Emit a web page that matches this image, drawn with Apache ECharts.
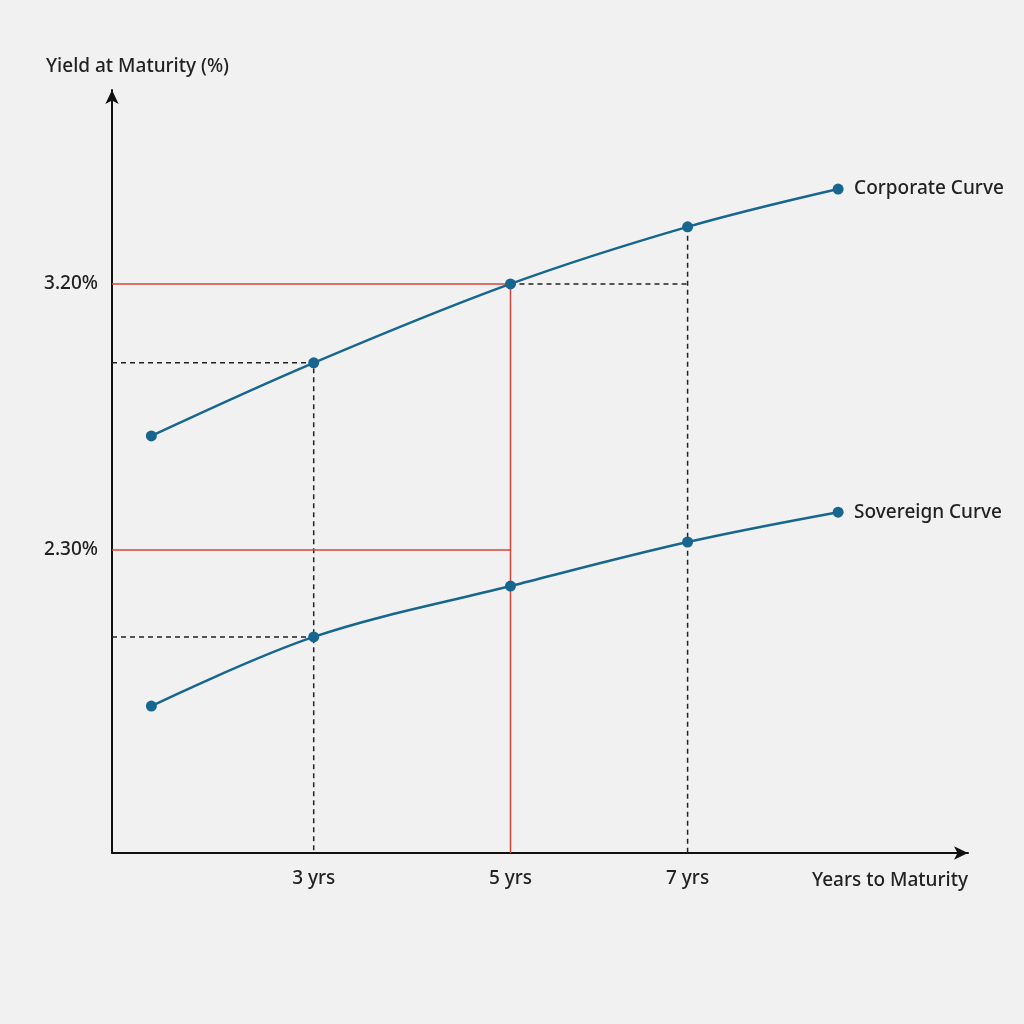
<!DOCTYPE html>
<html>
<head>
<meta charset="utf-8">
<script src="https://cdn.jsdelivr.net/npm/echarts@6/dist/echarts.min.js"></script>
<style>html,body{margin:0;background:#f1f1f1}#c{width:1024px;height:1024px}</style>
</head>
<body>
<div id="c"></div>
<script>
// the source picture spaces the x ticks unevenly, so 7 yrs is drawn at ~6.8
const years = [1.35, 3, 5, 6.8, 8.33];
const corporate = [2.686, 2.933, 3.2, 3.393, 3.521];
const sovereign = [1.772, 2.006, 2.178, 2.327, 2.428];
const xTicks = [3, 5, 6.8];
const yTicks = [2.3, 3.2];

const X0 = 0.95, Y0 = 1.275;
const blue = '#17668f';
const red = '#d6453d';
const font = { color: '#222', fontSize: 19, fontFamily: 'Noto Sans', fontWeight: 500 };

const curve = (name, vals) => ({
  type: 'line', name, smooth: 0.35, symbol: 'circle', symbolSize: 11,
  data: years.map((x, i) => [x, vals[i]]),
  lineStyle: { color: blue, width: 2.5 }, itemStyle: { color: blue },
  endLabel: { show: true, formatter: name, ...font, offset: [8, 0] },
  z: 5
});
const guide = (pts, color, dashed) => ({
  type: 'line', data: pts, symbol: 'none', silent: true,
  lineStyle: { color, width: 1.5, type: dashed ? [5, 4] : 'solid' }, z: 2
});

const option = {
  backgroundColor: '#f1f1f1',
  animation: false,
  grid: { left: 112, right: 56, top: 90, bottom: 171 },
  xAxis: {
    type: 'value', min: X0, max: 9.65,
    name: 'Years to Maturity', nameLocation: 'end', nameGap: 0,
    nameTextStyle: { ...font, align: 'right', verticalAlign: 'top', padding: [18, 0, 0, 0] },
    axisLine: { lineStyle: { color: '#111', width: 2 }, symbol: ['none', 'arrow'], symbolSize: [10, 14] },
    axisTick: { show: false }, splitLine: { show: false },
    axisLabel: { customValues: xTicks, formatter: v => Math.round(v) + ' yrs', ...font, margin: 16 }
  },
  yAxis: {
    type: 'value', min: Y0, max: 3.856,
    name: 'Yield at Maturity (%)', nameLocation: 'end', nameGap: 14,
    nameTextStyle: { ...font, align: 'left', padding: [0, 0, 0, -66] },
    axisLine: { show: true, lineStyle: { color: '#111', width: 2 }, symbol: ['none', 'arrow'], symbolSize: [10, 14] },
    axisTick: { show: false }, splitLine: { show: false },
    axisLabel: { customValues: yTicks, formatter: v => v.toFixed(2) + '%', ...font, margin: 14 }
  },
  series: [
    guide([[X0, corporate[1]], [years[1], corporate[1]], [years[1], Y0]], '#222', true),
    guide([[years[2], corporate[2]], [years[3], corporate[2]]], '#222', true),
    guide([[years[3], corporate[3]], [years[3], Y0]], '#222', true),
    guide([[X0, sovereign[1]], [years[1], sovereign[1]]], '#222', true),
    guide([[X0, 3.2], [years[2], 3.2], [years[2], Y0]], red, false),
    guide([[X0, 2.3], [years[2], 2.3]], red, false),
    curve('Corporate Curve', corporate),
    curve('Sovereign Curve', sovereign)
  ]
};
echarts.init(document.getElementById('c')).setOption(option);
</script>
</body>
</html>
